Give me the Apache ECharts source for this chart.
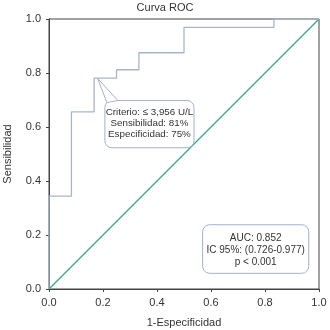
<!DOCTYPE html>
<html>
<head>
<meta charset="utf-8">
<script src="https://cdn.jsdelivr.net/npm/echarts@6/dist/echarts.min.js"></script>
<style>
  html, body { margin: 0; padding: 0; background: #fff; }
  #chart { width: 330px; height: 330px; }
</style>
</head>
<body>
<div id="chart"></div>
<script>
// ROC vertices (1-especificidad, sensibilidad), drawn as a step line
const fpr  = [0, 0,     0.083, 0.167, 0.25,  0.333, 0.5,   0.833, 1];
const sens = [0, 0.344, 0.656, 0.781, 0.812, 0.875, 0.969, 1.0,   1];
const refLine = [[0, 0], [1, 1]];

const cutPoint = [0.18, 0.78];
const cutText = ['Criterio: \u2264 3,956 U/L', 'Sensibilidad: 81%', 'Especificidad: 75%'];
const aucText = ['AUC: 0.852', 'IC 95%: (0.726-0.977)', 'p < 0.001'];

const font = 'Liberation Sans, Arial, sans-serif';
const textColor = '#333';
const boxColor = '#a3b2c9';

const myChart = echarts.init(document.getElementById('chart'));

const axisCommon = {
    type: 'value',
    min: 0,
    max: 1,
    interval: 0.2,
    nameLocation: 'middle',
    nameTextStyle: { color: textColor, fontSize: 11, fontFamily: font },
    axisLine: { show: true, lineStyle: { color: '#444', width: 1 } },
    axisTick: { show: true, length: 3, lineStyle: { color: '#444' } },
    splitLine: { show: false },
    axisLabel: {
        color: textColor, fontSize: 11, fontFamily: font, margin: 8,
        formatter: v => v.toFixed(1)
    }
};

const option = {
    animation: false,
    backgroundColor: '#fff',
    title: {
        text: 'Curva ROC',
        left: 'center',
        top: -3,
        textStyle: { color: textColor, fontSize: 11, fontWeight: 'normal', fontFamily: font }
    },
    grid: {
        left: 49, right: 11, top: 19, bottom: 41,
        containLabel: false,
        outerBoundsMode: 'none',
        show: true, borderColor: '#444', borderWidth: 1
    },
    xAxis: Object.assign({}, axisCommon, { name: '1-Especificidad', nameGap: 28 }),
    yAxis: Object.assign({}, axisCommon, { name: 'Sensibilidad', nameGap: 36 }),
    series: [
        {
            name: 'Referencia',
            type: 'line',
            data: refLine,
            showSymbol: false,
            itemStyle: { color: '#3aa588' },
            lineStyle: { color: '#3aa588', width: 1.2 },
            z: 2
        },
        {
            name: 'ROC',
            type: 'line',
            step: 'end',
            data: fpr.map((x, i) => [x, sens[i]]),
            showSymbol: false,
            itemStyle: { color: '#a8b5c9' },
            lineStyle: { color: '#a8b5c9', width: 1.3 },
            z: 3
        }
    ]
};
myChart.setOption(option);

// annotation boxes, placed from data coordinates
const px = p => myChart.convertToPixel({ gridIndex: 0 }, p);
const tip = px(cutPoint);
const c1 = px([0.207, 0.698]);  // callout top-left
const c2 = px([0.537, 0.523]);  // callout bottom-right
const a1 = px([0.569, 0.238]);  // auc box top-left
const a2 = px([0.962, 0.058]);  // auc box bottom-right

function textLines(lines, x1, x2, cy, step, size) {
    const cx = (x1 + x2) / 2;
    return lines.map((t, i) => ({
        type: 'text',
        z: 20,
        style: {
            text: t, x: cx, y: cy + (i - 1) * step,
            textAlign: 'center', textVerticalAlign: 'middle',
            fill: textColor, fontSize: size, fontFamily: font
        }
    }));
}

const baseL = c1[0] + 2, baseR = c1[0] + 13;
const graphics = [
    {
        type: 'rect', z: 10,
        shape: { x: c1[0], y: c1[1], width: c2[0] - c1[0], height: c2[1] - c1[1], r: 7 },
        style: { fill: '#fff', stroke: boxColor, lineWidth: 1 }
    },
    {
        type: 'polygon', z: 11,
        shape: { points: [tip, [baseL, c1[1] + 2], [baseR, c1[1]]] },
        style: { fill: '#fff', stroke: boxColor, lineWidth: 1 }
    },
    {
        type: 'polygon', z: 12,
        shape: { points: [[baseL + 1.5, c1[1] + 2.5], [baseR - 1, c1[1] + 1], [baseR - 1, c1[1] + 3]] },
        style: { fill: '#fff' }
    },
    {
        type: 'rect', z: 10,
        shape: { x: a1[0], y: a1[1], width: a2[0] - a1[0], height: a2[1] - a1[1], r: 7 },
        style: { fill: '#fff', stroke: boxColor, lineWidth: 1 }
    }
].concat(textLines(cutText, c1[0], c2[0], (c1[1] + c2[1]) / 2 - 1, 11, 9.8))
 .concat(textLines(aucText, a1[0], a2[0], (a1[1] + a2[1]) / 2 + 1, 12, 10));

myChart.setOption({ graphic: graphics });
</script>
</body>
</html>
